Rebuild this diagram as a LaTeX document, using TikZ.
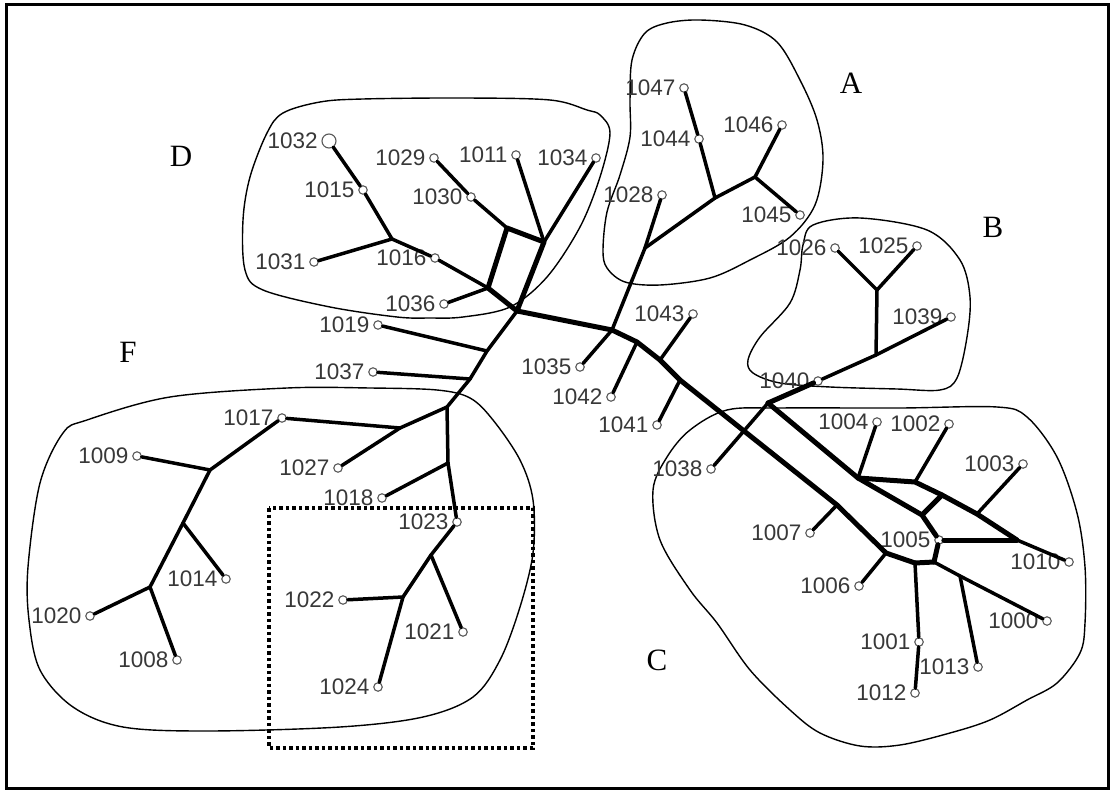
\documentclass[tikz,border=0pt]{standalone}
\usepackage{fontspec}
\setmainfont{Liberation Sans}
\newfontfamily\lettfont{Liberation Serif}
\newcommand\leafnode[3]{\node[leaf,label={[lbl]left:#1}] (n#1) at (#2,#3) {};}
\begin{document}
\begin{tikzpicture}[x=1pt,y=-1pt,
  leaf/.style={circle,draw=black!65,fill=white,line width=1.1pt,minimum size=8.5pt,inner sep=0pt},
  bigleaf/.style={leaf,minimum size=14pt},
  lbl/.style={font=\fontsize{22.5}{22.5}\selectfont,text=black!78,inner sep=0pt,label distance=3.5pt},
  letter/.style={font=\lettfont\fontsize{31}{31}\selectfont,inner sep=0pt},
  edge/.style={line width=3.5pt,line cap=round,line join=round},
  thk/.style={line width=5pt,line cap=round,line join=round},
  hull/.style={line width=1.4pt},
  frame/.style={line width=3pt},
  dotbox/.style={line width=3.5pt,dash pattern=on 3.5pt off 3pt}
]
\useasboundingbox (0,0) rectangle (1118,791);
\draw[frame] (6,5) rectangle (1108,788);

% hulls
\draw[hull] plot[smooth cycle,tension=0.55] coordinates {(245,270) (263,290) (330,307) (397,317) (430,318) (463,317) (510,307) (547,277) (580,227) (600,177) (610,133) (600,115) (587,110) (550,100) (463,98) (363,99) (320,102) (283,113) (267,133) (250,177) (243,220)};
\draw[hull] plot[smooth cycle,tension=0.55] coordinates {(603,250) (607,268) (625,282) (660,285) (710,278) (750,260) (790,237) (815,205) (823,160) (817,120) (800,80) (777,42) (745,25) (700,20) (667,23) (645,33) (632,60) (630,100) (630,137) (620,175) (607,212)};
\draw[hull] plot[smooth cycle,tension=0.55] coordinates {(813,225) (860,218) (927,230) (960,260) (970,297) (967,337) (957,378) (940,390) (897,389) (830,387) (780,383) (753,373) (748,360) (760,337) (790,303) (800,270) (803,245)};
\draw[hull] plot[smooth cycle,tension=0.55] coordinates {(727,410) (780,408) (900,408) (997,407) (1027,417) (1057,457) (1077,513) (1085,567) (1085,623) (1080,653) (1057,683) (1027,700) (990,720) (950,733) (900,745) (860,746) (820,733) (790,710) (750,670) (717,623) (690,590) (660,540) (653,490) (667,457) (690,430)};
\draw[hull] plot[smooth cycle,tension=0.55] coordinates {(87,420) (170,397) (287,388) (370,388) (437,390) (470,398) (493,420) (520,460) (533,500) (533,553) (520,607) (500,660) (473,697) (423,717) (340,727) (207,731) (123,727) (73,707) (40,670) (29,620) (28,567) (40,483) (63,433)};

% dotted box
\draw[dotbox] (269,508) rectangle (533,748);

% junction coordinates
\coordinate (j1) at (392,239);
\coordinate (j2) at (488,288);
\coordinate (b1) at (507,228);
\coordinate (b2) at (544,242);
\coordinate (j3) at (517,311);
\coordinate (k1) at (612,330);
\coordinate (a1) at (645,248);
\coordinate (a2) at (715,198);
\coordinate (a3) at (755,177);
\coordinate (k2) at (637,342);
\coordinate (k3) at (660,360);
\coordinate (k4) at (680,380);
\coordinate (m1) at (768,403);
\coordinate (bb1) at (876,355);
\coordinate (bb2) at (877,290);
\coordinate (u1) at (858,478);
\coordinate (u3) at (915,482);
\coordinate (u4) at (942,495);
\coordinate (u2) at (922,515);
\coordinate (u6) at (977,514);
\coordinate (u5) at (1017,540);
\coordinate (c1) at (837,505);
\coordinate (l2) at (886,553);
\coordinate (l3) at (915,563);
\coordinate (l4) at (934,562);
\coordinate (q1) at (960,576);
\coordinate (fa) at (487,351);
\coordinate (fb) at (470,379);
\coordinate (f1) at (447,407);
\coordinate (f2) at (400,428);
\coordinate (f3) at (448,463);
\coordinate (f4) at (210,470);
\coordinate (f5) at (183,523);
\coordinate (f6) at (150,587);
\coordinate (g1) at (431,555);
\coordinate (g2) at (403,597);

% leaves
\node[bigleaf,label={[lbl]left:1032}] (n1032) at (329,141) {};
\leafnode{1015}{363}{190}
\leafnode{1029}{434}{158}
\leafnode{1011}{516}{155}
\leafnode{1034}{596}{158}
\leafnode{1030}{471}{197}
\leafnode{1031}{314}{262}
\leafnode{1016}{435}{258}
\leafnode{1036}{444}{304}
\leafnode{1047}{684}{88}
\leafnode{1044}{699}{139}
\leafnode{1046}{782}{125}
\leafnode{1045}{800}{215}
\leafnode{1028}{662}{195}
\leafnode{1026}{835}{248}
\leafnode{1025}{917}{246}
\leafnode{1039}{951}{317}
\leafnode{1040}{818}{381}
\leafnode{1043}{693}{314}
\leafnode{1035}{580}{367}
\leafnode{1042}{611}{397}
\leafnode{1041}{657}{425}
\leafnode{1038}{711}{469}
\leafnode{1004}{877}{422}
\leafnode{1002}{949}{424}
\leafnode{1003}{1023}{464}
\leafnode{1007}{810}{533}
\leafnode{1005}{939}{540}
\leafnode{1010}{1069}{562}
\leafnode{1006}{859}{586}
\leafnode{1000}{1047}{621}
\leafnode{1001}{919}{642}
\leafnode{1013}{978}{667}
\leafnode{1012}{915}{693}
\leafnode{1019}{378}{325}
\leafnode{1037}{373}{372}
\leafnode{1017}{282}{418}
\leafnode{1027}{338}{468}
\leafnode{1009}{137}{456}
\leafnode{1018}{382}{498}
\leafnode{1023}{457}{522}
\leafnode{1014}{226}{579}
\leafnode{1020}{90}{616}
\leafnode{1008}{177}{660}
\leafnode{1021}{463}{632}
\leafnode{1022}{343}{600}
\leafnode{1024}{378}{687}

% cluster D
\draw[edge] (n1032) -- (n1015);
\draw[edge] (n1015) -- (j1);
\draw[edge] (n1031) -- (j1);
\draw[edge] (j1) -- (n1016);
\draw[edge] (n1016) -- (j2);
\draw[edge] (n1036) -- (j2);
\draw[edge] (n1029) -- (n1030);
\draw[edge] (n1030) -- (b1);
\draw[edge] (n1011) -- (b2);
\draw[edge] (n1034) -- (b2);
\draw[thk] (j2) -- (b1) -- (b2) -- (j3) -- cycle;

% trunk
\draw[thk] (j3) -- (k1) -- (k2) -- (k3) -- (k4) -- (c1) -- (l2) -- (l3);

% cluster A
\draw[edge] (k1) -- (a1);
\draw[edge] (a1) -- (n1028);
\draw[edge] (a1) -- (a2);
\draw[edge] (a2) -- (n1044);
\draw[edge] (n1044) -- (n1047);
\draw[edge] (a2) -- (a3);
\draw[edge] (a3) -- (n1046);
\draw[edge] (a3) -- (n1045);

% branches on trunk
\draw[edge] (n1035) -- (k1);
\draw[edge] (n1042) -- (k2);
\draw[edge] (n1043) -- (k3);
\draw[edge] (n1041) -- (k4);

% cluster B
\draw[edge] (n1038) -- (m1);
\draw[thk] (m1) -- (n1040);
\draw[edge] (n1040) -- (bb1);
\draw[edge] (bb1) -- (n1039);
\draw[edge] (bb1) -- (bb2);
\draw[edge] (bb2) -- (n1026);
\draw[edge] (bb2) -- (n1025);

% cluster C
\draw[thk] (m1) -- (u1);
\draw[edge] (n1004) -- (u1);
\draw[thk] (u1) -- (u3) -- (u4) -- (u6) -- (u5);
\draw[edge] (n1002) -- (u3);
\draw[edge] (n1003) -- (u6);
\draw[edge] (u5) -- (n1010);
\draw[thk] (u1) -- (u2);
\draw[thk] (u2) -- (u4);
\draw[thk] (u2) -- (n1005);
\draw[thk] (n1005) -- (u5);
\draw[thk] (n1005) -- (l4);
\draw[thk] (l4) -- (l3);
\draw[edge] (n1007) -- (c1);
\draw[edge] (n1006) -- (l2);
\draw[edge] (l3) -- (n1001);
\draw[edge] (n1001) -- (n1012);
\draw[edge] (l4) -- (q1);
\draw[edge] (q1) -- (n1000);
\draw[edge] (n1013) -- (q1);

% cluster F
\draw[edge] (j3) -- (fa) -- (fb) -- (f1);
\draw[edge] (n1019) -- (fa);
\draw[edge] (n1037) -- (fb);
\draw[edge] (f1) -- (f2);
\draw[edge] (f2) -- (n1027);
\draw[edge] (n1017) -- (f2);
\draw[edge] (f1) -- (f3);
\draw[edge] (f3) -- (n1023);
\draw[edge] (n1018) -- (f3);
\draw[edge] (n1017) -- (f4);
\draw[edge] (n1009) -- (f4);
\draw[edge] (f4) -- (f5);
\draw[edge] (f5) -- (n1014);
\draw[edge] (f5) -- (f6);
\draw[edge] (f6) -- (n1020);
\draw[edge] (f6) -- (n1008);
\draw[edge] (n1023) -- (g1);
\draw[edge] (g1) -- (n1021);
\draw[edge] (g1) -- (g2);
\draw[edge] (g2) -- (n1022);
\draw[edge] (g2) -- (n1024);

% letters
\node[letter] (LA) at (851,83) {A};
\node[letter] (LB) at (993,227) {B};
\node[letter] (LC) at (657,660) {C};
\node[letter] (LD) at (181,156) {D};
\node[letter] (LF) at (128,352) {F};
\end{tikzpicture}
\end{document}
